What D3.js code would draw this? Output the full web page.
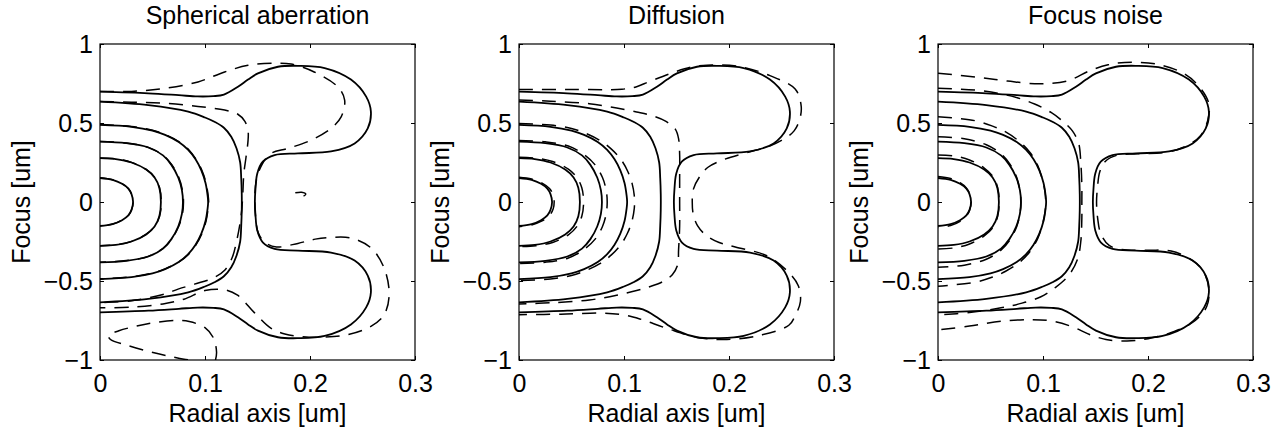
<!DOCTYPE html>
<html>
<head>
<meta charset="utf-8">
<script src="https://cdn.jsdelivr.net/npm/d3@7"></script>
<style>
  body { margin: 0; background: #fff; }
  svg text { font-family: "Liberation Sans", Arial, Helvetica, sans-serif; fill: #000; }
</style>
</head>
<body>
<svg id="chart" width="1284" height="430"></svg>
<script>
// ---- labels / ticks ----
const titles = ['Spherical aberration', 'Diffusion', 'Focus noise'];
const xLabel = 'Radial axis [um]';
const yLabel = 'Focus [um]';
const xTicks = [0, 0.1, 0.2, 0.3];
const yTicks = [-1, -0.5, 0, 0.5, 1];

// ---- solid contours (ideal PSF, same in every panel), [radial, focus] ----
const solid1 = [[0,0.152],[0.012,0.140],[0.021,0.115],[0.027,0.085],[0.030,0.05],[0.0315,0],[0.030,-0.05],[0.027,-0.085],[0.021,-0.115],[0.012,-0.140],[0,-0.152]];
const solid2 = [[0,0.278],[0.015,0.272],[0.030,0.250],[0.044,0.205],[0.052,0.155],[0.0565,0.09],[0.058,0],[0.0565,-0.09],[0.052,-0.155],[0.044,-0.205],[0.030,-0.250],[0.015,-0.272],[0,-0.278]];
const solid3 = [[0,0.382],[0.025,0.372],[0.046,0.345],[0.060,0.295],[0.068,0.235],[0.0745,0.155],[0.078,0.075],[0.079,0],[0.078,-0.075],[0.0745,-0.155],[0.068,-0.235],[0.060,-0.295],[0.046,-0.345],[0.025,-0.372],[0,-0.382]];
const solid4 = [[0,0.488],[0.030,0.476],[0.050,0.452],[0.062,0.425],[0.075,0.38],[0.084,0.33],[0.091,0.27],[0.0965,0.2],[0.1005,0.12],[0.1025,0.04],[0.103,0],[0.1025,-0.04],[0.1005,-0.12],[0.0965,-0.2],[0.091,-0.27],[0.084,-0.33],[0.075,-0.38],[0.062,-0.425],[0.050,-0.452],[0.030,-0.476],[0,-0.488]];
const solid5 = [[0,0.635],[0.046,0.613],[0.084,0.572],[0.100,0.535],[0.109,0.508],[0.118,0.47],[0.125,0.413],[0.130,0.34],[0.1335,0.25],[0.1345,0.15],[0.135,0.05],[0.135,-0.05],[0.1345,-0.15],[0.1335,-0.25],[0.130,-0.34],[0.125,-0.413],[0.118,-0.47],[0.109,-0.508],[0.100,-0.535],[0.084,-0.572],[0.046,-0.613],[0,-0.635]];
const solid6 = [[0,0.698],[0.046,0.688],[0.075,0.676],[0.093,0.668],[0.108,0.670],[0.118,0.680],[0.1314,0.73],[0.141,0.775],[0.1504,0.814],[0.1695,0.856],[0.1885,0.862],[0.214,0.848],[0.239,0.775],[0.2535,0.667],[0.258,0.572],[0.255,0.466],[0.2425,0.371],[0.22,0.32],[0.1885,0.308],[0.1663,0.297],[0.155,0.255],[0.1498,0.181],[0.148,0.076],[0.1475,0],
  [0.148,-0.076],[0.1498,-0.181],[0.155,-0.255],[0.1663,-0.297],[0.1885,-0.308],[0.22,-0.32],[0.2425,-0.371],[0.255,-0.466],[0.258,-0.572],[0.2535,-0.667],[0.239,-0.775],[0.214,-0.848],[0.1885,-0.862],[0.1695,-0.856],[0.1504,-0.814],[0.141,-0.775],[0.1314,-0.73],[0.118,-0.680],[0.108,-0.670],[0.093,-0.668],[0.075,-0.676],[0.046,-0.688],[0,-0.698]];

// ---- dashed contours: spherical aberration ----
const sphD1 = [[0,0.153],[0.012,0.141],[0.021,0.116],[0.027,0.086],[0.030,0.05],[0.0315,0],[0.030,-0.05],[0.027,-0.085],[0.021,-0.114],[0.012,-0.139],[0,-0.151]];
const sphD2 = [[0,0.279],[0.015,0.273],[0.030,0.251],[0.044,0.206],[0.052,0.156],[0.0567,0.09],[0.0583,0],[0.0567,-0.09],[0.052,-0.154],[0.044,-0.204],[0.030,-0.249],[0.015,-0.271],[0,-0.277]];
const sphD3 = [[0,0.383],[0.025,0.373],[0.046,0.346],[0.060,0.296],[0.0683,0.236],[0.075,0.156],[0.0785,0.075],[0.0795,0],[0.0785,-0.075],[0.075,-0.154],[0.0683,-0.234],[0.060,-0.294],[0.046,-0.344],[0.025,-0.371],[0,-0.381]];
const sphD4 = [[0,0.49],[0.030,0.478],[0.050,0.454],[0.062,0.427],[0.075,0.382],[0.0845,0.331],[0.0915,0.27],[0.097,0.2],[0.101,0.12],[0.103,0.04],[0.1035,0],[0.103,-0.04],[0.101,-0.12],[0.097,-0.2],[0.0915,-0.27],[0.0845,-0.33],[0.075,-0.38],[0.062,-0.423],[0.050,-0.45],[0.030,-0.474],[0,-0.486]];
const sphD5 = [[0,0.636],[0.03,0.632],[0.0616,0.625],[0.0933,0.605],[0.1187,0.582],[0.131,0.557],[0.138,0.51],[0.141,0.45],[0.141,0.39],[0.139,0.28],[0.137,0.18],[0.136,0.05],[0.135,-0.05],[0.133,-0.15],[0.130,-0.25],[0.126,-0.35],[0.119,-0.43],[0.108,-0.48],[0.09,-0.52],[0.075,-0.55],[0.06,-0.585],[0.03,-0.625],[0,-0.637]];
const sphD6 = [[0,0.70],[0.03,0.70],[0.0616,0.719],[0.0933,0.76],[0.1187,0.823],[0.141,0.865],[0.166,0.878],[0.182,0.873],[0.204,0.823],[0.2266,0.728],[0.233,0.645],[0.2298,0.54],[0.22,0.466],[0.2012,0.392],[0.179,0.339],[0.163,0.308],[0.154,0.234],[0.149,0.14],[0.1475,0.05],[0.148,-0.08],[0.151,-0.2],[0.158,-0.26],[0.168,-0.285],[0.1885,-0.262],[0.205,-0.235],[0.22,-0.224],[0.239,-0.228],[0.258,-0.29],[0.2706,-0.418],[0.2754,-0.587],[0.2706,-0.713],[0.258,-0.787],[0.236,-0.84],[0.2139,-0.855],[0.192,-0.852],[0.176,-0.835],[0.163,-0.80],[0.147,-0.70],[0.131,-0.59],[0.118,-0.555],[0.10,-0.56],[0.08,-0.615],[0.06,-0.645],[0.03,-0.665],[0,-0.67]];
const sphLobe = [[0.110,-1.0],[0.111,-0.95],[0.108,-0.86],[0.100,-0.795],[0.085,-0.757],[0.071,-0.750],[0.05,-0.765],[0.035,-0.785],[0.018,-0.815],[0.008,-0.845],[0.010,-0.87],[0.025,-0.905],[0.046,-0.945],[0.065,-0.975],[0.08,-0.995],[0.088,-1.0]];
const sphSpot = [[0.186,0.058],[0.192,0.062],[0.196,0.05],[0.193,0.035],[0.188,0.03]];

// ---- dashed contours: diffusion ----
const difD1 = [[0,0.156],[0.012,0.145],[0.022,0.12],[0.029,0.086],[0.0325,0.045],[0.0335,0],[0.0325,-0.045],[0.029,-0.086],[0.022,-0.12],[0.012,-0.145],[0,-0.156]];
const difD2 = [[0,0.283],[0.016,0.277],[0.032,0.256],[0.047,0.208],[0.055,0.156],[0.0598,0.09],[0.0615,0],[0.0598,-0.09],[0.055,-0.156],[0.047,-0.208],[0.032,-0.256],[0.016,-0.277],[0,-0.283]];
const difD3 = [[0,0.39],[0.025,0.381],[0.047,0.354],[0.062,0.3],[0.0725,0.235],[0.0795,0.155],[0.083,0.075],[0.084,0],[0.083,-0.075],[0.0795,-0.155],[0.0725,-0.235],[0.062,-0.3],[0.047,-0.354],[0.025,-0.381],[0,-0.39]];
const difD4 = [[0,0.497],[0.030,0.487],[0.050,0.465],[0.063,0.436],[0.077,0.39],[0.088,0.335],[0.097,0.27],[0.1035,0.195],[0.1078,0.115],[0.1098,0.04],[0.110,0],[0.1098,-0.04],[0.1078,-0.115],[0.1035,-0.195],[0.097,-0.27],[0.088,-0.335],[0.077,-0.39],[0.063,-0.436],[0.050,-0.465],[0.030,-0.487],[0,-0.497]];
const difD5 = [[0,0.645],[0.03,0.638],[0.067,0.622],[0.093,0.595],[0.112,0.57],[0.125,0.55],[0.14,0.51],[0.149,0.46],[0.152,0.40],[0.153,0.3],[0.153,0.15],[0.153,0],[0.153,-0.15],[0.152,-0.3],[0.151,-0.4],[0.146,-0.46],[0.138,-0.5],[0.125,-0.535],[0.112,-0.56],[0.093,-0.59],[0.067,-0.62],[0.03,-0.638],[0,-0.645]];
const difD6 = [[0,0.712],[0.05,0.712],[0.098,0.714],[0.112,0.73],[0.124,0.762],[0.15,0.827],[0.165,0.855],[0.18,0.866],[0.21,0.857],[0.239,0.80],[0.263,0.715],[0.2685,0.62],[0.268,0.54],[0.262,0.45],[0.25,0.39],[0.235,0.345],[0.22,0.318],[0.194,0.266],[0.18,0.22],[0.172,0.16],[0.166,0.08],[0.165,0],[0.166,-0.08],[0.17,-0.15],[0.178,-0.21],[0.19,-0.255],[0.206,-0.285],[0.236,-0.34],[0.256,-0.44],[0.266,-0.53],[0.268,-0.63],[0.263,-0.72],[0.257,-0.78],[0.228,-0.846],[0.198,-0.87],[0.17,-0.857],[0.141,-0.80],[0.115,-0.74],[0.10,-0.715],[0.08,-0.703],[0.04,-0.71],[0,-0.713]];

// ---- dashed contours: focus noise ----
const fnD1 = [[0,0.162],[0.012,0.149],[0.021,0.122],[0.027,0.089],[0.0302,0.05],[0.0315,0],[0.0302,-0.05],[0.027,-0.089],[0.021,-0.122],[0.012,-0.149],[0,-0.162]];
const fnD2 = [[0,0.297],[0.016,0.29],[0.030,0.266],[0.044,0.215],[0.0525,0.16],[0.0568,0.09],[0.0582,0],[0.0568,-0.09],[0.0525,-0.16],[0.044,-0.215],[0.030,-0.266],[0.016,-0.29],[0,-0.297]];
const fnD3 = [[0,0.413],[0.025,0.40],[0.046,0.362],[0.060,0.305],[0.0685,0.24],[0.075,0.155],[0.078,0.075],[0.079,0],[0.078,-0.075],[0.075,-0.155],[0.0685,-0.24],[0.060,-0.305],[0.046,-0.362],[0.025,-0.40],[0,-0.413]];
const fnD4 = [[0,0.54],[0.035,0.515],[0.052,0.48],[0.064,0.445],[0.078,0.38],[0.088,0.31],[0.095,0.23],[0.0995,0.14],[0.102,0.06],[0.1025,0],[0.102,-0.06],[0.0995,-0.14],[0.095,-0.23],[0.088,-0.31],[0.078,-0.38],[0.064,-0.44],[0.052,-0.475],[0.035,-0.508],[0,-0.533]];
const fnD5 = [[0,0.72],[0.04,0.705],[0.07,0.67],[0.092,0.62],[0.108,0.565],[0.119,0.51],[0.128,0.45],[0.134,0.37],[0.136,0.25],[0.137,0.1],[0.137,0],[0.137,-0.1],[0.136,-0.25],[0.133,-0.36],[0.125,-0.46],[0.112,-0.54],[0.098,-0.6],[0.08,-0.64],[0.06,-0.67],[0.03,-0.7],[0,-0.715]];
const fnD6 = [[0,0.815],[0.037,0.79],[0.066,0.766],[0.097,0.748],[0.123,0.766],[0.145,0.832],[0.162,0.868],[0.178,0.883],[0.208,0.873],[0.235,0.81],[0.25,0.72],[0.258,0.62],[0.257,0.52],[0.25,0.42],[0.238,0.36],[0.22,0.318],[0.19,0.305],[0.17,0.295],[0.159,0.255],[0.154,0.19],[0.152,0.1],[0.151,0],[0.152,-0.1],[0.155,-0.2],[0.163,-0.275],[0.175,-0.3],[0.2,-0.305],[0.222,-0.31],[0.24,-0.36],[0.252,-0.43],[0.258,-0.55],[0.256,-0.66],[0.245,-0.75],[0.225,-0.82],[0.2,-0.865],[0.18,-0.88],[0.16,-0.87],[0.145,-0.84],[0.128,-0.79],[0.11,-0.755],[0.09,-0.745],[0.06,-0.755],[0.03,-0.785],[0,-0.81]];

const solidSet = [solid1, solid2, solid3, solid4, solid5, solid6];
const dashedSets = [
  [sphD1, sphD2, sphD3, sphD4, sphD5, sphD6, sphLobe, sphSpot],
  [difD1, difD2, difD3, difD4, difD5, difD6],
  [fnD1, fnD2, fnD3, fnD4, fnD5, fnD6]
];

// ---- layout ----
const panelLeft = [100, 519, 938];
const plotTop = 44, W = 315, H = 316;
const FS = 25;

const svg = d3.select('#chart');
const x = d3.scaleLinear().domain([0, 0.3]).range([0, W]);
const y = d3.scaleLinear().domain([-1, 1]).range([H, 0]);
const line = d3.line()
  .x(d => x(d[0])).y(d => y(d[1]))
  .curve(d3.curveCatmullRom.alpha(0.5));

const fmt = d => d === 0 ? '0' : (d < 0 ? '\u2212' + Math.abs(d) : String(d));

titles.forEach((title, i) => {
  const g = svg.append('g').attr('transform', `translate(${panelLeft[i]},${plotTop})`);

  g.append('clipPath').attr('id', `clip${i}`)
    .append('rect').attr('width', W).attr('height', H);

  const plot = g.append('g').attr('clip-path', `url(#clip${i})`);

  plot.selectAll('path.solid').data(solidSet).join('path')
    .attr('class', 'solid')
    .attr('d', line)
    .attr('fill', 'none').attr('stroke', '#000').attr('stroke-width', 1.8);

  plot.selectAll('path.dash').data(dashedSets[i]).join('path')
    .attr('class', 'dash')
    .attr('d', line)
    .attr('fill', 'none').attr('stroke', '#000').attr('stroke-width', 1.5)
    .attr('stroke-dasharray', '14,9');

  // axes, ticks pointing inward
  const axB = g.append('g').attr('transform', `translate(0,${H})`)
    .call(d3.axisBottom(x).tickValues(xTicks).tickSize(-4).tickPadding(14).tickFormat(fmt));
  const axT = g.append('g')
    .call(d3.axisTop(x).tickValues(xTicks).tickSize(-4).tickFormat(''));
  const axL = g.append('g')
    .call(d3.axisLeft(y).tickValues(yTicks).tickSize(-4).tickPadding(7).tickFormat(fmt));
  const axR = g.append('g').attr('transform', `translate(${W},0)`)
    .call(d3.axisRight(y).tickValues(yTicks).tickSize(-4).tickFormat(''));

  [axB, axT, axL, axR].forEach(a => {
    a.select('.domain').remove();
    a.selectAll('line').attr('stroke', '#000').attr('stroke-width', 1);
    a.selectAll('text').attr('font-size', FS).attr('font-family', null).attr('fill', '#000');
  });
  axL.selectAll('text').attr('dy', '0.35em');

  g.append('rect').attr('width', W).attr('height', H)
    .attr('fill', 'none').attr('stroke', '#000').attr('stroke-width', 1.2);

  g.append('text').attr('x', W / 2).attr('y', 24 - plotTop)
    .attr('text-anchor', 'middle').attr('font-size', FS).text(title);

  g.append('text').attr('x', W / 2).attr('y', 422 - plotTop)
    .attr('text-anchor', 'middle').attr('font-size', FS).text(xLabel);

  g.append('text')
    .attr('transform', `translate(-70,${H / 2}) rotate(-90)`)
    .attr('text-anchor', 'middle').attr('font-size', FS).text(yLabel);
});
</script>
</body>
</html>
